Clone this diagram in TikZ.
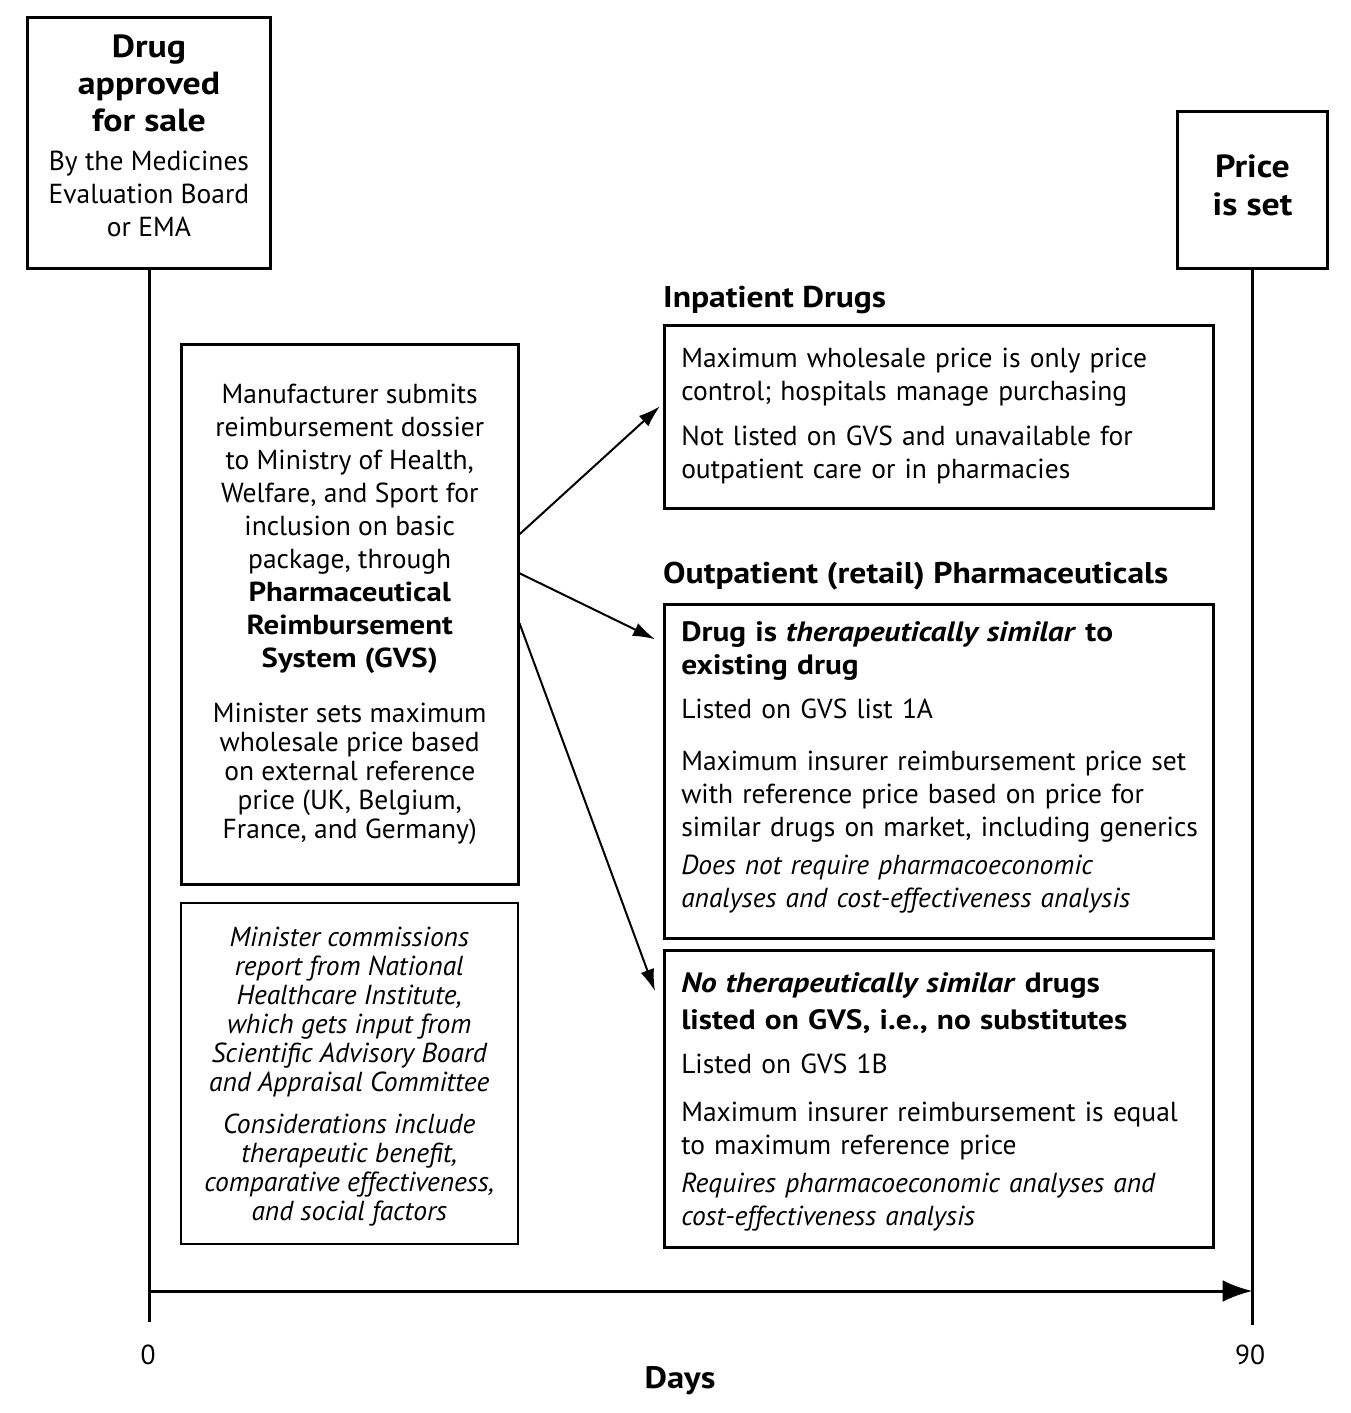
\documentclass[tikz,border=0pt]{standalone}
\usepackage{fontspec}
\setmainfont{PT Sans}[BoldFeatures={FakeStretch=1.12},
  BoldItalicFeatures={FakeStretch=1.12}]
\usetikzlibrary{arrows.meta, positioning}
\newcommand{\rows}[2][c]{%
  \begin{tabular}{@{}#1@{}}#2\end{tabular}}

\begin{document}
\begin{tikzpicture}[
  x=1pt, y=-1pt,
  font=\fontsize{27.5}{33}\selectfont,
  milestone/.style={draw, line width=3pt, inner sep=0pt, align=center},
  panel/.style={draw, line width=2.5pt, inner sep=0pt, minimum width=337pt},
  note/.style={draw, line width=1.5pt, inner sep=0pt, minimum width=337pt,
               font=\fontsize{27.5}{29}\selectfont\itshape},
  route/.style={draw, line width=2.5pt, inner xsep=17pt, inner ysep=0pt,
                text width=515pt, align=left},
  head/.style={font=\fontsize{30}{33}\selectfont\bfseries, inner sep=0pt,
               anchor=base west},
  link/.style={-{Latex[length=22pt,width=14pt]}, line width=2pt},
  axis/.style={line width=3pt},
  tick/.style={inner sep=0pt},
]
\useasboundingbox (0,0) rectangle (1350,1413);

% ── milestones on the time line ─────────────────────────────────────────
\node[milestone, anchor=north west, minimum width=243pt, minimum height=251pt]
  (appr) at (26,16) {\rows{%
    {\fontsize{32}{37}\selectfont\bfseries Drug}\\[4pt]
    {\fontsize{32}{37}\selectfont\bfseries approved}\\[4pt]
    {\fontsize{32}{37}\selectfont\bfseries for sale}\\[6pt]
    By the Medicines\\ Evaluation Board\\ or EMA\\[6pt]}};
\node[milestone, anchor=north west, minimum width=150pt, minimum height=157pt]
  (price) at (1176,110) {\rows{%
    {\fontsize{32}{37}\selectfont\bfseries Price}\\[5pt]
    {\fontsize{32}{37}\selectfont\bfseries is set}}};

% ── left column ─────────────────────────────────────────────────────────
\node[panel, anchor=north west, minimum height=540pt] (manu) at (180,343)
  {\rows{Manufacturer submits\\ reimbursement dossier\\
    to Ministry of Health,\\ Welfare, and Sport for\\ inclusion on basic\\
    package, through\\ \textbf{Pharmaceutical}\\ \textbf{Reimbursement}\\
    \textbf{System (GVS)}\\[22pt]
    Minister sets maximum\\[-4pt] wholesale price based\\[-4pt]
    on external reference\\[-4pt] price (UK, Belgium,\\[-4pt]
    France, and Germany)}};
\node[note, anchor=north west, minimum height=341pt] (comm) at (180,902)
  {\rows{Minister commissions\\ report from National\\
    Healthcare Institute,\\ which gets input from\\
    Scientific Advisory Board\\ and Appraisal Committee\\[13pt]
    Considerations include\\ therapeutic benefit,\\
    comparative effectiveness,\\ and social factors\\[-8pt]}};

% ── right column ────────────────────────────────────────────────────────
\node[head] (inhead) at (663,307) {Inpatient Drugs};
\node[route, anchor=north west, minimum height=183pt] (inp) at (663,324)
  {\rows[l]{Maximum wholesale price is only price\\
    control; hospitals manage purchasing\\[12pt]
    Not listed on GVS and unavailable for\\
    outpatient care or in pharmacies}};

\node[head] (outhead) at (663,583) {Outpatient (retail) Pharmaceuticals};
\node[route, anchor=north west, minimum height=334pt] (simA) at (663,603)
  {\rows[l]{%
    {\fontsize{28}{33}\selectfont\bfseries Drug is \textit{therapeutically similar} to}\\
    {\fontsize{28}{33}\selectfont\bfseries existing drug}\\[11pt]
    Listed on GVS list 1A\\[19pt]
    Maximum insurer reimbursement price set\\
    with reference price based on price for\\
    similar drugs on market, including generics\\[5pt]
    \textit{Does not require pharmacoeconomic}\\
    \textit{analyses and cost-effectiveness analysis}\\[6pt]}};
\node[route, anchor=north west, minimum height=297pt] (simB) at (663,949)
  {\rows[l]{%
    {\fontsize{28}{33}\selectfont\bfseries \textit{No therapeutically similar} drugs}\\[4pt]
    {\fontsize{28}{33}\selectfont\bfseries listed on GVS, i.e., no substitutes}\\[11pt]
    Listed on GVS 1B\\[15pt]
    Maximum insurer reimbursement is equal\\
    to maximum reference price\\[5pt]
    \textit{Requires pharmacoeconomic analyses and}\\
    \textit{cost-effectiveness analysis}\\[-8pt]}};

\draw[link] ([yshift=80pt]manu.east) -- ([xshift=-3pt, yshift=10.5pt]inp.west);
\draw[link] ([yshift=41pt]manu.east) -- ([xshift=-8pt, yshift=132pt]simA.west);
\draw[link] ([yshift=-9pt]manu.east) -- ([xshift=-8pt, yshift=107.5pt]simB.west);

% ── time line ───────────────────────────────────────────────────────────
\coordinate (end0)  at (appr.south |- 0,1322);
\coordinate (end90) at (price.south |- 0,1325);
\coordinate (day0)  at (appr.south |- 0,1291);
\coordinate (day90) at (price.south |- 0,1291);
\draw[axis] (appr.south) -- (end0);
\draw[axis] (price.south) -- (end90);
\draw[axis, -{Latex[length=30pt,width=22pt]}] (day0) -- (day90);

\node[tick] (lab0)  at (148,1355) {0};
\node[tick] (lab90) at (1250,1355) {90};
\node[tick, font=\fontsize{31}{33}\selectfont\bfseries] (days) at (680,1381) {Days};

\end{tikzpicture}
\end{document}
